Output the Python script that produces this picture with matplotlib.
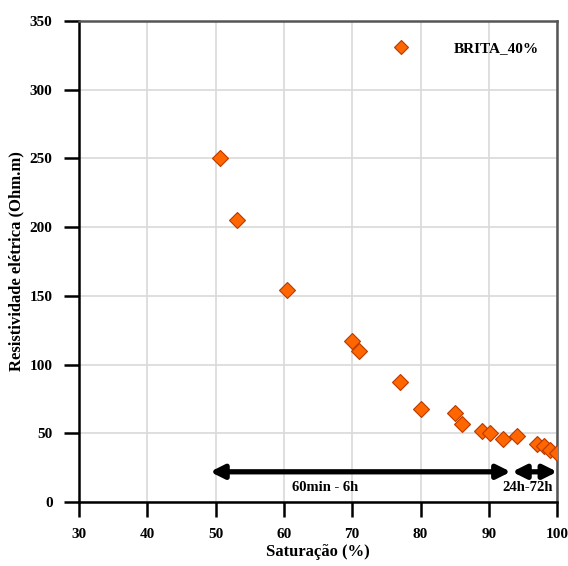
import matplotlib.pyplot as plt
from matplotlib.lines import Line2D

# ================================
# Data
# ================================
saturacao = [50.6, 53.1, 60.5, 70.0, 71.0, 77.0, 80.1, 85.0, 86.0,
             89.0, 90.2, 92.0, 94.1, 97.0, 98.0, 99.0, 100.0]
resistividade = [250, 205, 154, 117, 110, 87, 68, 65, 57,
                 52, 50, 46, 48, 42, 41, 38, 36]

periodos = ["60min - 6h", "24h-72h"]
periodo_inicio = [49.2, 93.4]
periodo_fim = [93.2, 100.0]
periodo_texto_x = [66.0, 95.7]

serif = ["Liberation Serif", "DejaVu Serif"]

# ================================
# Plot
# ================================
fig = plt.figure(figsize=(5.68, 5.66), dpi=100)
ax = fig.add_axes([0.139, 0.113, 0.842, 0.850])

ax.plot(saturacao, resistividade, linestyle="none", marker="D",
        markersize=8.5, markerfacecolor="#FF6600", markeredgecolor="#B83A00",
        markeredgewidth=0.8, zorder=3)

ax.set_xlim(30, 100)
ax.set_ylim(0, 350)
ax.set_xticks(range(30, 101, 10))
ax.set_yticks(range(0, 351, 50))

ax.grid(True, color="#D9D9D9", linewidth=1.2)
ax.set_axisbelow(True)

for side in ["left", "bottom"]:
    ax.spines[side].set_color("black")
    ax.spines[side].set_linewidth(1.8)
for side in ["top", "right"]:
    ax.spines[side].set_color("#555555")
    ax.spines[side].set_linewidth(1.8)

ax.tick_params(direction="out", length=11, width=1.8, color="black",
               labelsize=11, pad=8)
for lbl in ax.get_xticklabels() + ax.get_yticklabels():
    lbl.set_family(serif)
    lbl.set_fontweight("bold")

ax.set_xlabel("Saturação (%)", family=serif, fontweight="bold", fontsize=12, labelpad=2)
ax.set_ylabel("Resistividade elétrica (Ohm.m)", family=serif, fontweight="bold",
              fontsize=12, labelpad=4)

# Double arrows for the time periods
for nome, x0, x1, xt in zip(periodos, periodo_inicio, periodo_fim, periodo_texto_x):
    ax.annotate("", xy=(x0, 22), xytext=(x1, 22),
                arrowprops=dict(arrowstyle="<|-|>", color="black", lw=3.8,
                                mutation_scale=20, shrinkA=0, shrinkB=0))
    ax.text(xt, 10.5, nome, ha="center", va="center",
            family=serif, fontweight="bold", fontsize=10.5)

# Legend
handle = Line2D([], [], linestyle="none", marker="D", markersize=7.5,
                markerfacecolor="#FF6600", markeredgecolor="#B83A00", markeredgewidth=0.8)
leg = ax.legend([handle], ["BRITA_40%"], loc="upper right", bbox_to_anchor=(0.985, 0.98),
                frameon=False, handletextpad=2.5, borderaxespad=0.3,
                prop={"family": serif, "weight": "bold", "size": 11})

fig.savefig("out.png", dpi=100)
